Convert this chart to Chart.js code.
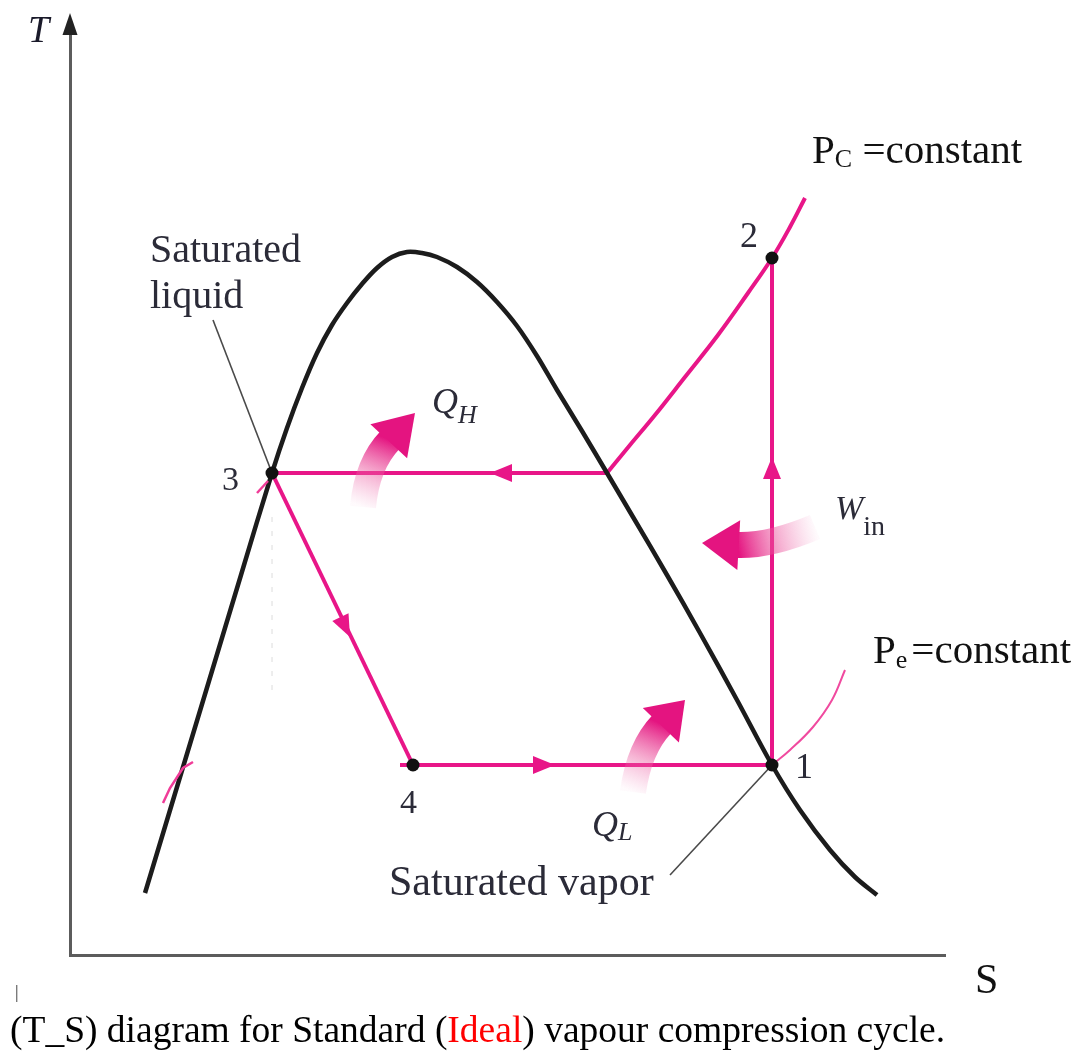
<!DOCTYPE html>
<html>
<head>
<meta charset="utf-8">
<title>T-S diagram</title>
<script src="https://cdn.jsdelivr.net/npm/chart.js@4.4.1/dist/chart.umd.min.js"></script>
<style>
  html, body { margin: 0; padding: 0; background: #fff; }
  canvas { display: block; }
</style>
</head>
<body>
<canvas id="ts" width="1090" height="1053"></canvas>
<script>
// saturation dome, entropy S vs temperature T (arbitrary units)
var domeS = [0.75, 1.07, 1.39, 1.71, 2.02, 2.17, 2.32, 2.47, 2.62, 2.77, 2.92, 3.07, 3.22, 3.37,
             3.52, 3.67, 3.87, 4.07, 4.27, 4.47, 4.67, 4.87, 5.12, 5.37, 5.63, 5.97, 6.30, 6.67,
             7.02, 7.30, 7.60, 7.85, 8.07];
var domeT = [0.62, 1.68, 2.74, 3.80, 4.82, 5.27, 5.67, 6.02, 6.30, 6.52, 6.71, 6.87, 6.98, 7.03,
             7.02, 6.98, 6.88, 6.73, 6.53, 6.29, 5.99, 5.65, 5.24, 4.82, 4.38, 3.80, 3.22, 2.55,
             1.90, 1.45, 1.05, 0.78, 0.60];

// condenser pressure line (superheated part)
var pcS = [5.37, 5.60, 5.85, 6.15, 6.48, 6.78, 7.02, 7.20, 7.35];
var pcT = [4.82, 5.10, 5.40, 5.78, 6.20, 6.62, 6.97, 7.28, 7.57];

// evaporator pressure line (superheated part)
var peS = [7.02, 7.20, 7.43, 7.62, 7.75];
var peT = [1.90, 2.05, 2.28, 2.55, 2.85];

// cycle states 1..4
var stateNames = ['1', '2', '3', '4'];
var stateS = [7.02, 7.02, 2.02, 3.43];
var stateT = [1.90, 6.97, 4.82, 1.90];
var satVapCondS = 5.37;   // condensing line meets the dome here
var evapStartS = 3.30;

// flow direction marks on the cycle: position and direction
var flowS = [4.20, 7.02, 4.85, 2.80];
var flowT = [4.82, 4.98, 1.90, 3.18];
var flowDS = [-1, 0, 1, 1.41];
var flowDT = [0, 1, 0, -2.92];

// heat / work arrows: tail, control, head base, tip
var heatArrows = [
  { tail: [2.93, 4.48], ctrl: [2.97, 4.91], base: [3.20, 5.15], tip: [3.45, 5.42] },
  { tail: [5.63, 1.63], ctrl: [5.69, 2.07], base: [5.92, 2.31], tip: [6.15, 2.55] },
  { tail: [7.45, 4.28], ctrl: [7.00, 4.09], base: [6.67, 4.10], tip: [6.32, 4.12] }
];

var PINK = '#e81688';
var LABEL = '#2b2b38';
var SERIF = '"Liberation Serif", "Times New Roman", serif';

function pts(xs, ys) {
  return xs.map(function (x, i) { return { x: x, y: ys[i] }; });
}
function st(i) { return { x: stateS[i], y: stateT[i] }; }

function f(size, style) { return (style ? style + ' ' : '') + size + 'px ' + SERIF; }

var labels = [
  { at: [-0.42, 9.13], runs: [{ t: 'T', font: f(38, 'italic'), color: '#1a1a2a' }] },
  { at: [9.05, -0.38], runs: [{ t: 'S', font: f(42), color: '#111' }] },
  { at: [7.42, 7.92], runs: [
      { t: 'P', font: f(41), color: '#111' },
      { t: 'C', font: f(26), color: '#111', dy: 4 },
      { t: ' =constant', font: f(41), color: '#111' }] },
  { at: [8.03, 2.92], runs: [
      { t: 'P', font: f(41), color: '#111' },
      { t: 'e', font: f(26), color: '#111', dy: 5 },
      { t: '=constant', font: f(41), color: '#111', dx: 4 }] },
  { at: [0.80, 6.93], runs: [{ t: 'Saturated', font: f(40), color: LABEL }] },
  { at: [0.80, 6.47], runs: [{ t: 'liquid', font: f(40), color: LABEL }] },
  { at: [3.19, 0.60], runs: [{ t: 'Saturated vapor', font: f(42), color: LABEL }] },
  { at: [6.70, 7.08], runs: [{ t: '2', font: f(36), color: LABEL }] },
  { at: [1.52, 4.65], runs: [{ t: '3', font: f(34), color: LABEL }] },
  { at: [3.30, 1.42], runs: [{ t: '4', font: f(34), color: LABEL }] },
  { at: [7.25, 1.77], runs: [{ t: '1', font: f(36), color: LABEL }] },
  { at: [3.62, 5.42], runs: [
      { t: 'Q', font: f(36, 'italic'), color: LABEL },
      { t: 'H', font: f(26, 'italic'), color: LABEL, dy: 10 }] },
  { at: [7.65, 4.36], runs: [
      { t: 'W', font: f(34, 'italic'), color: LABEL },
      { t: 'in', font: f(28), color: LABEL, dy: 16 }] },
  { at: [5.22, 1.19], runs: [
      { t: 'Q', font: f(36, 'italic'), color: LABEL },
      { t: 'L', font: f(26, 'italic'), color: LABEL, dy: 4 }] },
  { at: [-0.55, -0.43], runs: [{ t: '|', font: f(18), color: '#333' }] },
  { at: [-0.60, -0.87], runs: [
      { t: '(T_S) diagram for Standard (', font: f(37.5), color: '#000' },
      { t: 'Ideal', font: f(37.5), color: '#ff0000' },
      { t: ') vapour compression cycle.', font: f(37.5), color: '#000' }] }
];

function lineSet(data, color, width, order, extra) {
  var ds = {
    data: data, showLine: true, borderColor: color, borderWidth: width,
    pointRadius: 0, tension: 0, order: order
  };
  for (var k in extra) ds[k] = extra[k];
  return ds;
}

var extras = {
  id: 'tsExtras',
  afterDatasetsDraw: function (chart) {
    var ctx = chart.ctx, xs = chart.scales.x, ys = chart.scales.y, area = chart.chartArea;
    function px(p) { return { x: xs.getPixelForValue(p[0]), y: ys.getPixelForValue(p[1]) }; }
    ctx.save();

    // arrowhead of the T axis
    ctx.fillStyle = '#222';
    ctx.beginPath();
    ctx.moveTo(area.left, area.top - 7);
    ctx.lineTo(area.left - 7.5, area.top + 15);
    ctx.lineTo(area.left + 7.5, area.top + 15);
    ctx.closePath();
    ctx.fill();

    // flow direction marks
    ctx.fillStyle = PINK;
    for (var i = 0; i < flowS.length; i++) {
      var tip = px([flowS[i], flowT[i]]);
      var o = px([flowS[i] + flowDS[i] * 0.01, flowT[i] + flowDT[i] * 0.01]);
      var dx = o.x - tip.x, dy = o.y - tip.y, len = Math.hypot(dx, dy);
      dx /= len; dy /= len;
      var bx = tip.x - dx * 22, by = tip.y - dy * 22;
      ctx.beginPath();
      ctx.moveTo(tip.x, tip.y);
      ctx.lineTo(bx - dy * 9, by + dx * 9);
      ctx.lineTo(bx + dy * 9, by - dx * 9);
      ctx.closePath();
      ctx.fill();
    }

    // heat and work arrows, fading toward the tail
    heatArrows.forEach(function (a) {
      var t = px(a.tail), c = px(a.ctrl), b = px(a.base), p = px(a.tip);
      var g = ctx.createLinearGradient(t.x, t.y, b.x, b.y);
      g.addColorStop(0, 'rgba(240,130,185,0.04)');
      g.addColorStop(0.45, 'rgba(236,90,160,0.45)');
      g.addColorStop(1, 'rgba(228,20,128,1)');
      ctx.strokeStyle = g;
      ctx.lineWidth = 26;
      ctx.lineCap = 'butt';
      ctx.beginPath();
      ctx.moveTo(t.x, t.y);
      ctx.quadraticCurveTo(c.x, c.y, b.x, b.y);
      ctx.stroke();
      var dx = p.x - b.x, dy = p.y - b.y, len = Math.hypot(dx, dy);
      var nx = -dy / len, ny = dx / len;
      ctx.fillStyle = 'rgb(228,20,128)';
      ctx.beginPath();
      ctx.moveTo(p.x, p.y);
      ctx.lineTo(b.x + nx * 25 - dx * 0.05, b.y + ny * 25 - dy * 0.05);
      ctx.lineTo(b.x - nx * 25 - dx * 0.05, b.y - ny * 25 - dy * 0.05);
      ctx.closePath();
      ctx.fill();
    });
    ctx.restore();
  },
  afterDraw: function (chart) {
    var ctx = chart.ctx, xs = chart.scales.x, ys = chart.scales.y;
    ctx.save();
    ctx.textBaseline = 'alphabetic';
    ctx.textAlign = 'left';
    labels.forEach(function (l) {
      var x = xs.getPixelForValue(l.at[0]), y = ys.getPixelForValue(l.at[1]);
      l.runs.forEach(function (r) {
        ctx.font = r.font;
        ctx.fillStyle = r.color;
        x += r.dx || 0;
        ctx.fillText(r.t, x, y + (r.dy || 0));
        x += ctx.measureText(r.t).width;
      });
    });
    ctx.restore();
  }
};

var axisOpts = function (max) {
  return {
    type: 'linear', min: 0, max: max,
    ticks: { display: false },
    grid: { display: false, drawTicks: false },
    border: { display: true, color: '#5c5c5c', width: 3 }
  };
};

new Chart(document.getElementById('ts'), {
  type: 'scatter',
  data: {
    datasets: [
      lineSet(pts(domeS, domeT), '#1c1c1c', 4.5, 3, { tension: 0.35 }),
      lineSet(pts(pcS, pcT), PINK, 4, 4, { tension: 0.4 }),
      lineSet(pts(peS, peT), '#f04a9f', 2, 4, { tension: 0.4 }),
      lineSet([{ x: satVapCondS, y: stateT[2] }, st(2)], PINK, 4, 4),
      lineSet([st(2), st(3)], PINK, 4, 4),
      lineSet([{ x: evapStartS, y: stateT[3] }, st(0)], PINK, 4, 4),
      lineSet([st(0), st(1)], PINK, 4, 4),
      // leader lines
      lineSet([{ x: 1.43, y: 6.35 }, st(2)], '#4a4a4a', 1.6, 2),
      lineSet([{ x: 6.00, y: 0.80 }, st(0)], '#4a4a4a', 1.6, 2),
      // faint construction line below state 3
      lineSet([{ x: 2.02, y: 4.38 }, { x: 2.02, y: 2.58 }], '#dcdcdc', 1, 5, { borderDash: [5, 9] }),
      // stray pink marks near the liquid line
      lineSet([{ x: 1.23, y: 1.93 }, { x: 1.13, y: 1.87 }, { x: 1.00, y: 1.67 }, { x: 0.93, y: 1.52 }], '#f03c98', 2.5, 1),
      lineSet([{ x: 1.87, y: 4.62 }, { x: 1.98, y: 4.74 }], '#f03c98', 2.5, 1),
      {
        data: pts(stateS, stateT), showLine: false, order: 0,
        pointRadius: 6.5, pointBackgroundColor: '#111', pointBorderWidth: 0,
        labels: stateNames
      }
    ]
  },
  options: {
    responsive: false,
    animation: false,
    layout: { padding: { left: 70, right: 145, top: 20, bottom: 98 } },
    plugins: { legend: { display: false }, tooltip: { enabled: false } },
    scales: { x: axisOpts(8.75), y: axisOpts(9.35) }
  },
  plugins: [extras]
});
</script>
</body>
</html>
